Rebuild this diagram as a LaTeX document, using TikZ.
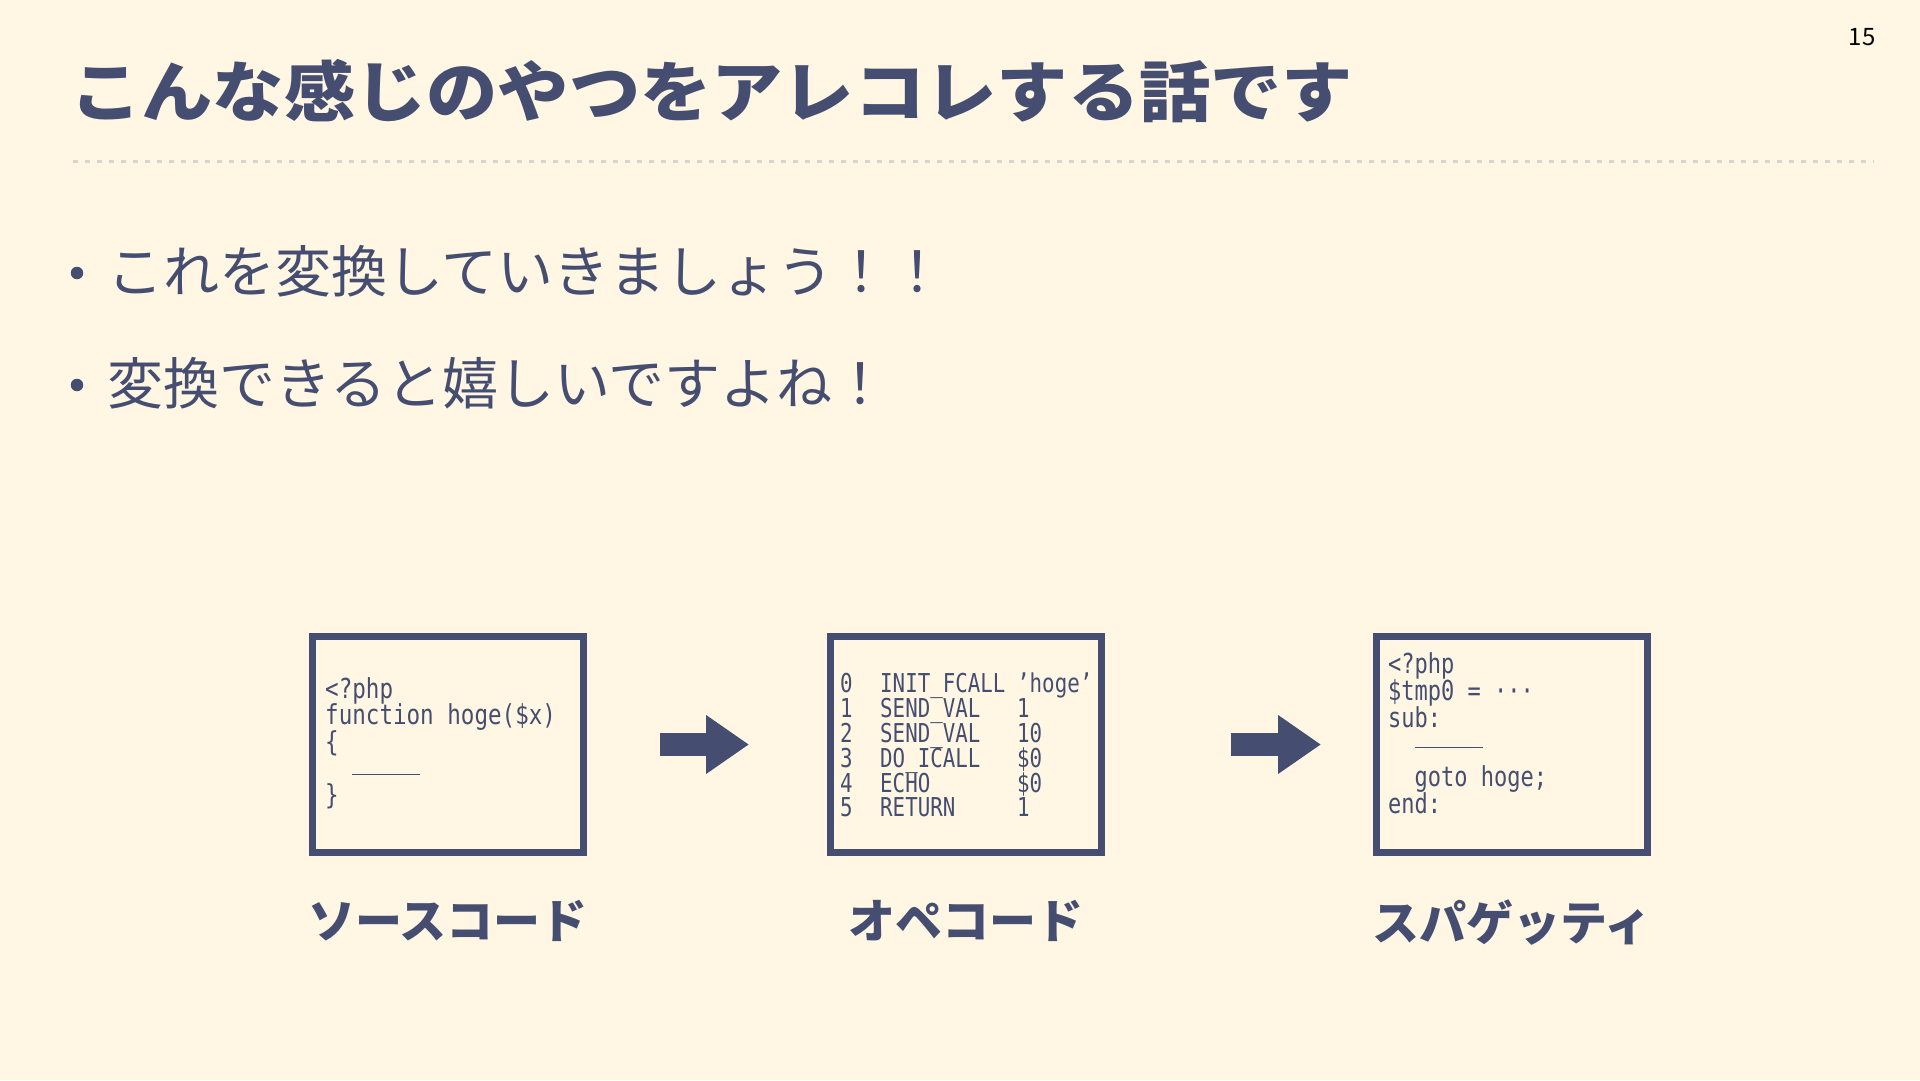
\documentclass[tikz,border=0pt]{standalone}
\usepackage{fontspec}
\setmainfont{Noto Sans CJK JP}
\newfontfamily\codefont{DejaVu Sans Mono}[FakeStretch=0.8]
\newfontfamily\codewide{DejaVu Sans Mono}[FakeStretch=0.82]
\newfontfamily\headfont{Noto Sans CJK JP}[FakeStretch=1.08]
\usetikzlibrary{arrows.meta, positioning}

\definecolor{navy}{HTML}{454E70}
\definecolor{cream}{HTML}{FFF6E4}
\definecolor{rulegray}{HTML}{D8D4CC}

% one row of the opcode listing
\newcommand{\oprow}[3]{\makebox[40pt][l]{#1}\makebox[137pt][l]{#2}#3}
% the blank line in the code boxes
\newcommand{\blankline}[1]{\rule[#1]{68pt}{1.6pt}}
% fixed line pitch in the code boxes
\newcommand{\tightlines}{\lineskiplimit=-50pt\relax}

\tikzset{
    codebox/.style={draw=navy, line width=7pt, minimum width=271pt,
                    minimum height=216pt, inner sep=0pt},
    codetext/.style={text=navy, align=left, inner sep=0pt, anchor=north west},
    caption/.style={text=navy, inner sep=0pt,
                    font=\bfseries\fontsize{47}{47}\selectfont},
    bigarrow/.style={draw=navy, line width=23pt,
                     -{Triangle[length=43pt, width=56pt]}},
    bodytext/.style={text=navy, inner sep=0pt, anchor=base west,
                     font=\fontsize{56}{56}\selectfont},
    bulletdot/.style={circle, fill=navy, minimum size=12.5pt, inner sep=0pt},
}

\begin{document}
\begin{tikzpicture}[x=1pt, y=-1pt]
    \fill[cream] (0,0) rectangle (1920,1080);
    \useasboundingbox (0,0) rectangle (1920,1080);

    % heading
    \node[text=navy, inner sep=0pt, anchor=base west,
          font=\headfont\bfseries\fontsize{66}{66}\selectfont] (title) at (70,116)
        {こんな感じのやつをアレコレする話です};
    \node[inner sep=0pt, font=\fontsize{24}{24}\selectfont] (page) at (1862,37) {15};
    \coordinate (ruleL) at (73,161);
    \coordinate (ruleR) at (1874,161);
    \draw[rulegray, line width=3pt, dash pattern=on 5pt off 7pt] (ruleL) -- (ruleR);

    % bullets
    \node[bulletdot] (dot1) at (77,273) {};
    \node[bodytext] (item1) at (107,292) {これを変換していきましょう！！};
    \node[bulletdot] (dot2) at (77,385) {};
    \node[bodytext] (item2) at (107,404) {変換できると嬉しいですよね！};

    % three stages
    \node[codebox] (src) at (448,744.5) {};
    \node[codebox] (ops) at (966,744.5) {};
    \node[codebox] (spg) at (1512,744.5) {};

    \node[codetext, font=\codewide\fontsize{27.5}{26.5}\selectfont\tightlines]
        (srctext) at ([xshift=16pt, yshift=-44pt]src.north west) {%
        <?php\\
        function hoge(\$x)\\
        \{\\
        \phantom{xx}\blankline{2.5pt}\\
        \}};
    \node[codetext, font=\codefont\fontsize{26}{24.8}\selectfont\tightlines]
        (opstext) at ([xshift=13pt, yshift=-40pt]ops.north west) {%
        \oprow{0}{INIT\_FCALL}{’hoge’}\\
        \oprow{1}{SEND\_VAL}{1}\\
        \oprow{2}{SEND\_VAL}{10}\\
        \oprow{3}{DO\_ICALL}{\$0}\\
        \oprow{4}{ECHO}{\$0}\\
        \oprow{5}{RETURN}{1}};
    \node[codetext, font=\codefont\fontsize{27.5}{27}\selectfont\tightlines]
        (spgtext) at ([xshift=15pt, yshift=-19pt]spg.north west) {%
        <?php\\
        \$tmp0 = ···\\
        sub:\\
        \phantom{xx}\blankline{5.8pt}\\[5pt]
        \phantom{xx}goto hoge;\\
        end:};

    \draw[bigarrow] ([xshift=73pt]src.east) -- ([xshift=-78pt]ops.west);
    \draw[bigarrow] ([xshift=126pt]ops.east) -- ([xshift=-52pt]spg.west);

    \node[caption, below=44pt of src] (srccap) {ソースコード};
    \node[caption, below=44pt of ops] (opscap) {オペコード};
    \node[caption, below=44pt of spg] (spgcap) {スパゲッティ};
\end{tikzpicture}
\end{document}
